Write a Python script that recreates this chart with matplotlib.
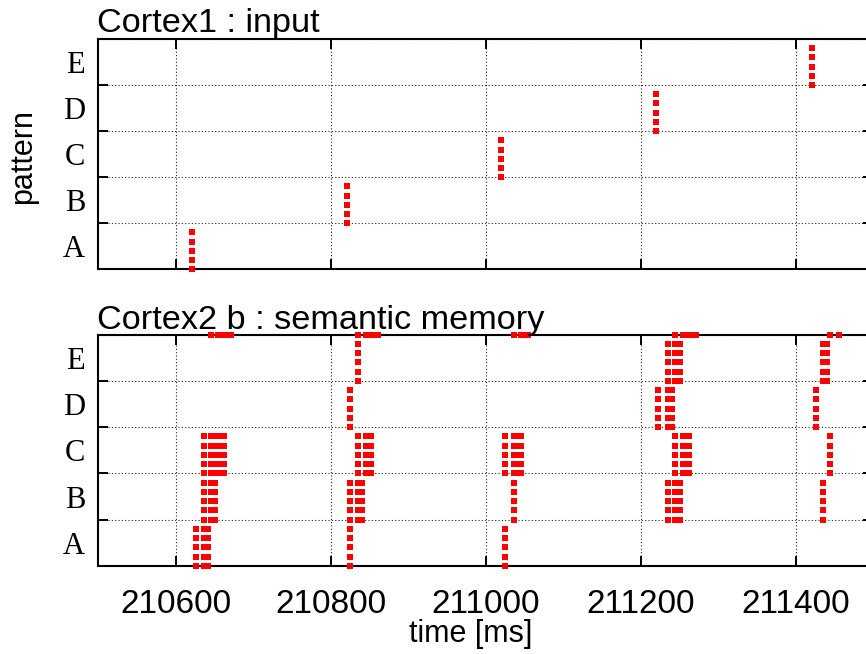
import matplotlib
matplotlib.use("Agg")
import matplotlib.pyplot as plt

# ---------------- data ----------------
patterns = ["A", "B", "C", "D", "E"]
pattern_base = [0, 5, 10, 15, 20]          # first neuron index of each pattern
neurons_per_pattern = 5

# Cortex1 : input -- one spike per neuron of the presented pattern
input_times = [210621, 210821, 211020, 211220, 211421]

# Cortex2 b : semantic memory -- spike times shared by the 5 neurons of each pattern
c2_A = [210626, 210636, 210641, 210825, 211025]
c2_B = [210636, 210645, 210651, 210825, 210835, 210841, 211036,
        211236, 211245, 211251, 211435]
c2_C = [210636, 210645, 210651, 210656, 210662, 210835, 210845, 210852,
        211025, 211036, 211041, 211046, 211245, 211255, 211262, 211445]
c2_D = [210825, 211223, 211236, 211241, 211426]
c2_E = [210835, 211236, 211245, 211251, 211435, 211441]
c2_groups = [c2_A, c2_B, c2_C, c2_D, c2_E]
# extra neuron sitting on the upper border (index 25)
c2_top_neuron = 25
c2_top = [210645, 210655, 210661, 210666, 210671,
          210835, 210845, 210851, 210856, 210861,
          211036, 211046, 211050, 211055,
          211245, 211255, 211260, 211266, 211271,
          211445, 211456]

xticks = [210600, 210800, 211000, 211200, 211400]
xlim = (210500, 211500)
ylim = (0, 25)

# ---------------- figure ----------------
W, H = 866, 654
fig = plt.figure(figsize=(W / 100, H / 100), dpi=100)


def px_axes(left, top, right, bottom):
    return [left / W, 1 - bottom / H, (right - left) / W, (bottom - top) / H]


ax1 = fig.add_axes(px_axes(98.3, 39, 873, 269.3))
ax2 = fig.add_axes(px_axes(98.3, 334.7, 873, 566))

sans = "Liberation Sans"
serif = "Liberation Serif"
red = "#ff0000"
msize = 3.7


def style(ax, show_xlabels):
    ax.set_xlim(*xlim)
    ax.set_ylim(*ylim)
    ax.set_xticks(xticks)
    ax.set_yticks([0, 5, 10, 15, 20, 25])
    ax.set_yticklabels([""] * 6)
    ax.set_yticks([b + 2.5 for b in pattern_base], labels=patterns, minor=True)
    ax.tick_params(which="major", direction="in", length=7, width=1.4,
                   top=True, right=True, bottom=True, left=True)
    ax.tick_params(axis="y", which="minor", length=0, pad=9.5, labelsize=22)
    for lbl in ax.get_yticklabels(minor=True):
        lbl.set_fontfamily(serif)
    if show_xlabels:
        ax.tick_params(axis="x", labelsize=24, pad=16.5)
        for lbl in ax.get_xticklabels():
            lbl.set_fontfamily(sans)
    else:
        ax.tick_params(axis="x", labelbottom=False)
    ax.grid(True, which="major", linestyle=(0, (1, 2)), color="#222222",
            linewidth=0.8)
    ax.set_axisbelow(True)
    for sp in ax.spines.values():
        sp.set_linewidth(1.5)


style(ax1, False)
style(ax2, True)

# top panel: input spikes
for base, t in zip(pattern_base, input_times):
    ys = [base + k for k in range(neurons_per_pattern)]
    ax1.plot([t] * len(ys), ys, linestyle="none", marker="s", markersize=msize,
             markeredgewidth=0, color=red, clip_on=False, zorder=5)

# bottom panel: semantic memory spikes
for base, times in zip(pattern_base, c2_groups):
    for t in times:
        ys = [base + k for k in range(neurons_per_pattern)]
        ax2.plot([t] * len(ys), ys, linestyle="none", marker="s",
                 markersize=msize, markeredgewidth=0, color=red,
                 clip_on=False, zorder=5)
ax2.plot(c2_top, [c2_top_neuron] * len(c2_top), linestyle="none", marker="s",
         markersize=msize, markeredgewidth=0, color=red, clip_on=False,
         zorder=5)

# titles and labels
fig.text(97 / W, 1 - 32 / H, "Cortex1 : input", ha="left", va="baseline",
         fontsize=24.7, family=sans)
fig.text(97 / W, 1 - 329 / H, "Cortex2 b : semantic memory", ha="left",
         va="baseline", fontsize=24.7, family=sans)
fig.text(23 / W, 1 - 157 / H, "pattern", rotation=90, ha="center",
         va="center", fontsize=22, family=sans)
fig.text(471 / W, 1 - 634 / H, "time [ms]", ha="center", va="center",
         fontsize=22, family=sans)

fig.savefig("out.png", dpi=100)
